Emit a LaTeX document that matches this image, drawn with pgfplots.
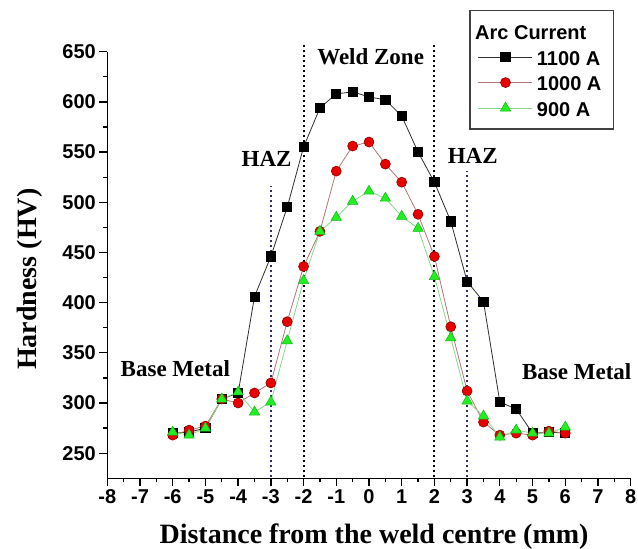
\documentclass[border=0pt]{standalone}
\usepackage{fontspec}
\setmainfont{Liberation Serif}
\setsansfont{Liberation Sans}
\usepackage{pgfplots}
\pgfplotsset{compat=1.18}
\usepackage{tikz}

\definecolor{sqline}{HTML}{303030}
\definecolor{redfill}{HTML}{E80000}
\definecolor{reddraw}{HTML}{900000}
\definecolor{redline}{HTML}{B07878}
\definecolor{grfill}{HTML}{22EE22}
\definecolor{grdraw}{HTML}{11BB11}
\definecolor{grline}{HTML}{88D888}
\definecolor{hazline}{HTML}{303060}

\newcommand{\tickfont}{\sffamily\bfseries\fontsize{20}{22}\selectfont}
\newcommand{\notefont}{\rmfamily\bfseries\fontsize{23}{25}\selectfont}

\begin{document}
\begin{tikzpicture}
\begin{axis}[
    name=ax,
    scale only axis,
    width=523.4pt, height=426.6pt,
    xmin=-8, xmax=8, ymin=225, ymax=650,
    axis x line=bottom, axis y line=left,
    axis line style={-, line width=1.4pt},
    xtick={-8,...,8},
    ytick={250,300,...,650},
    minor x tick num=1, minor y tick num=1,
    tick align=outside,
    major tick length=8pt, minor tick length=4pt,
    every tick/.style={black, line width=1.3pt},
    tick label style={font=\tickfont},
    /pgf/number format/assume math mode=true,
    xlabel={Distance from the weld centre (mm)},
    ylabel={Hardness (HV)},
    xlabel style={font=\rmfamily\bfseries\fontsize{28}{30}\selectfont,
        at={(axis description cs:0.5096,0)}, anchor=base, yshift=-65pt},
    ylabel style={font=\rmfamily\bfseries\fontsize{28}{30}\selectfont,
        at={(axis description cs:-0.1349,0.4667)}, anchor=base, rotate=0},
    clip=false,
    legend cell align=left,
    legend image code/.code={
        \draw[mark repeat=2, mark phase=2] plot coordinates {(0pt,0pt) (27pt,0pt) (54pt,0pt)};},
    legend style={
        at={(axis description cs:0.9681,1.0978)}, anchor=north east,
        draw=black!75, line width=1.2pt,
        font=\tickfont,
        inner xsep=8pt, inner ysep=10pt,
        row sep=3.5pt,
        nodes={inner xsep=4pt, inner ysep=1pt, text height=18pt, text depth=2pt},
    },
]
\addlegendimage{empty legend}

% zone boundaries
\addplot[forget plot, black, line width=2pt, dash pattern=on 1.8pt off 3.2pt]
    coordinates {(-2,226) (-2,657)};
\addplot[forget plot, black, line width=2pt, dash pattern=on 1.8pt off 3.2pt]
    coordinates {(2,226) (2,657)};
\addplot[forget plot, hazline, line width=2pt, dash pattern=on 1.8pt off 3.2pt]
    coordinates {(-3,226) (-3,516)};
\addplot[forget plot, hazline, line width=2pt, dash pattern=on 1.8pt off 3.2pt]
    coordinates {(3,226) (3,531)};

% 1100 A
\addplot[sqline, line width=0.8pt, mark=square*, mark size=4.6pt,
    mark options={solid, fill=black, draw=black}]
coordinates {
(-6,270) (-5.5,271) (-5,275) (-4.5,304) (-4,310) (-3.5,406) (-3,446)
(-2.5,495) (-2,555) (-1.5,594) (-1,608) (-0.5,610) (0,605) (0.5,602)
(1,586) (1.5,550) (2,520) (2.5,481) (3,421) (3.5,401) (4,301)
(4.5,294) (5,270) (5.5,271) (6,270)
};

% 1000 A
\addplot[redline, line width=0.8pt, mark=*, mark size=5pt,
    mark options={solid, fill=redfill, draw=reddraw, line width=0.6pt}]
coordinates {
(-6,268) (-5.5,273) (-5,277) (-4.5,304) (-4,300) (-3.5,310) (-3,320)
(-2.5,381) (-2,436) (-1.5,471) (-1,531) (-0.5,556) (0,560) (0.5,538)
(1,520) (1.5,488) (2,446) (2.5,376) (3,312) (3.5,281) (4,268)
(4.5,270) (5,268) (5.5,272) (6,270)
};

% 900 A
\addplot[grline, line width=0.8pt, mark=triangle*, mark size=6pt,
    mark options={solid, fill=grfill, draw=grdraw, line width=0.5pt}]
coordinates {
(-6,271) (-5.5,268) (-5,275) (-4.5,304) (-4,311) (-3.5,291) (-3,301)
(-2.5,362) (-2,422) (-1.5,471) (-1,485) (-0.5,501) (0,511) (0.5,504)
(1,486) (1.5,474) (2,426) (2.5,365) (3,302) (3.5,287) (4,266)
(4.5,273) (5,270) (5.5,270) (6,276)
};

\legend{\hspace{-61.7pt}Arc Current, 1100 A, 1000 A, 900 A}

\node[font=\notefont, anchor=base] at (axis cs:0.05,637) {Weld Zone};
\node[font=\notefont, anchor=base] at (axis cs:-3.13,535.5) {HAZ};
\node[font=\notefont, anchor=base] at (axis cs:3.17,538.8) {HAZ};
\node[font=\notefont, anchor=base] at (axis cs:-5.92,326.3) {Base Metal};
\node[font=\notefont, anchor=base] at (axis cs:6.35,323.7) {Base Metal};
\end{axis}
\pgfresetboundingbox
\path[use as bounding box] ([shift={(-107.3pt,-70.7pt)}]ax.south west)
    rectangle ([shift={(530.7pt,478.3pt)}]ax.south west);
\end{tikzpicture}
\end{document}
